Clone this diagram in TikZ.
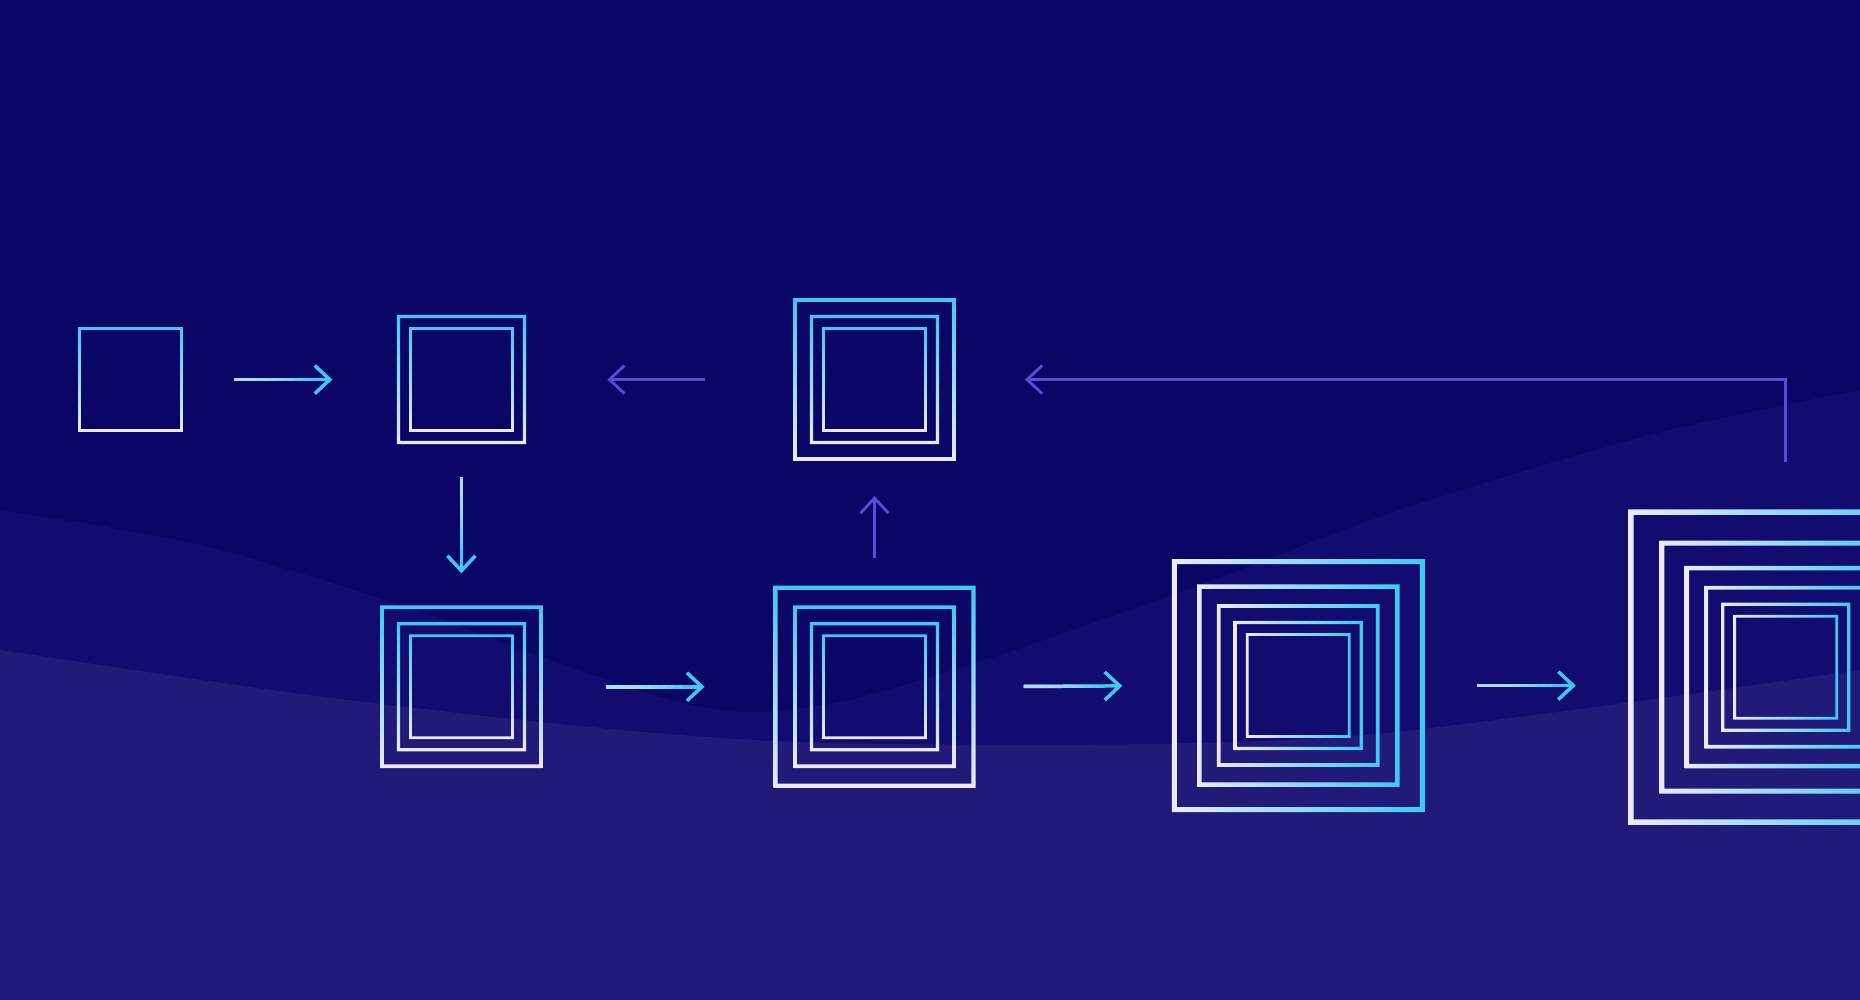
\documentclass[tikz,border=0pt]{standalone}
\usetikzlibrary{arrows.meta,calc}
\definecolor{bgtop}{HTML}{0A0666}
\definecolor{bgmid}{HTML}{130C70}
\definecolor{bgbot}{HTML}{221A79}
\definecolor{cyanline}{HTML}{3FC8F2}
\definecolor{paleline}{HTML}{ECEAFA}
\definecolor{backline}{HTML}{5A4ADA}
\tikzset{
  sq/.style={minimum size=#1, inner sep=0pt, outer sep=0pt},
  vgrad/.style={top color=cyanline, bottom color=paleline},
  hgrad/.style={left color=paleline, right color=cyanline},
  fwd/.style={draw=cyanline, line width=.035cm, -{Straight Barb[length=1.5mm,width=2.8mm]}},
  bwd/.style={draw=backline, line width=.028cm, -{Straight Barb[length=1.5mm,width=2.8mm]}},
}
% nested squares round a node: name, count, shading
\newcommand{\nest}[3]{%
  \foreach \i in {1,...,#2}{
    \pgfmathsetmacro{\h}{{0.51,0.63,0.795,0.99,1.24,1.55}[\i-1]}
    \pgfmathsetmacro{\w}{{0.014,0.016,0.019,0.022,0.025,0.028}[\i-1]}
    \shade[#3, even odd rule]
      ($(#1.center)+(-\h-\w,-\h-\w)$) rectangle ($(#1.center)+(\h+\w,\h+\w)$)
      ($(#1.center)+(-\h+\w,-\h+\w)$) rectangle ($(#1.center)+(\h-\w,\h-\w)$);
  }
}
% arrow fading from pale to cyan: from, to, shorten at start, shorten at end
\newcommand{\glow}[4]{%
  \draw[fwd, shorten <=#3, shorten >=#4] (#1) -- (#2);
  \foreach \k in {1,...,8}
    \draw[paleline, opacity=.13, line width=.035cm, shorten <=#3, shorten >=#4+.15cm+\k*.08cm] (#1) -- (#2);
}

\begin{document}
\begin{tikzpicture}
    \clip(0, 0)rectangle(18.6, 10);
    % background and waves
    \fill[bgtop](0, 0)rectangle(18.6, 10);
    \fill[bgmid](0, 0)--plot[smooth]coordinates{(0, 4.9)(2, 4.55)(4, 3.95)(5.5, 3.4)(6.7, 3.0)(7.5, 2.88)(8.5, 3.0)(10, 3.45)(12, 4.15)(14, 4.9)(16.5, 5.65)(18.6, 6.1)}--(18.6, 0)--cycle;
    \fill[bgbot](0, 0)--plot[smooth]coordinates{(0, 3.5)(3.16, 3.04)(6.2, 2.7)(8.3, 2.57)(11.49, 2.56)(13.64, 2.65)(16.03, 2.94)(18.6, 3.3)}--(18.6, 0)--cycle;
    % the squares
    \node[sq=1.02cm](s1) at(1.305, 6.204){};
    \node[sq=1.26cm](s2) at(4.614, 6.204){};
    \node[sq=1.59cm](t3) at(8.745, 6.204){};
    \node[sq=1.59cm](s3) at(4.614, 3.132){};
    \node[sq=1.98cm](s4) at(8.745, 3.132){};
    \node[sq=2.48cm](s5) at(12.983, 3.144){};
    \node[sq=3.10cm](s6) at(17.858, 3.328){};
    \nest{s1}{1}{vgrad}
    \nest{s2}{2}{vgrad}
    \nest{t3}{3}{vgrad}
    \nest{s3}{3}{vgrad}
    \nest{s4}{4}{vgrad}
    \nest{s5}{5}{hgrad}
    \nest{s6}{6}{hgrad}
    % forward arrows
    \glow{s1.east}{s2.west}{.52cm}{.66cm}
    \glow{s2.south}{s3.north}{.34cm}{.34cm}
    \glow{s3.east}{s4.west}{.65cm}{.71cm}
    \glow{s4.east}{s5.west}{.5cm}{.52cm}
    \glow{s5.east}{s5.east -| s6.west}{.55cm}{.55cm}
    % back arrows
    \draw[bwd, shorten <=.3cm, shorten >=.37cm](s4.north)--(t3.south);
    \draw[bwd, shorten <=.9cm, shorten >=.83cm](t3.west)--(s2.east);
    \draw[bwd, shorten <=.5cm, shorten >=.71cm](s6.north)|-(t3.east);
\end{tikzpicture}
\end{document}
